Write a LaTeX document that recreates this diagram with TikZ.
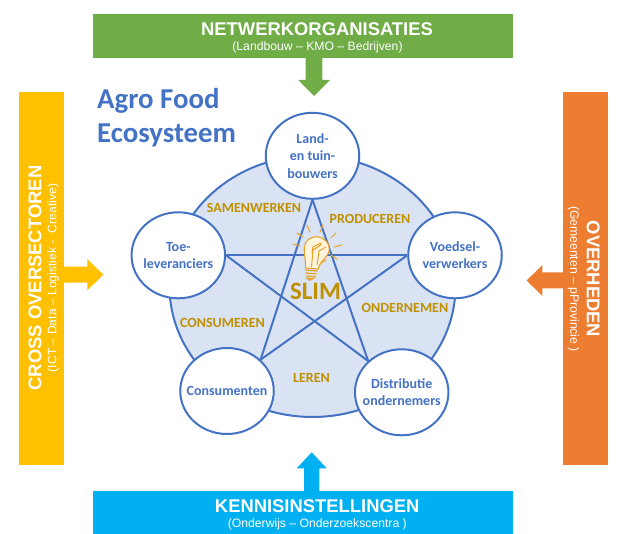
\documentclass[tikz,border=0pt]{standalone}
\usepackage{fontspec}
\usetikzlibrary{shapes.geometric}
\setmainfont{Liberation Sans}
\newfontfamily\carl{Carlito}
\definecolor{cblue}{HTML}{4472C4}
\definecolor{cfill}{HTML}{DAE3F3}
\definecolor{cgold}{HTML}{BF9000}
\definecolor{cgreen}{HTML}{70AD47}
\definecolor{csky}{HTML}{00B0F0}
\definecolor{cyel}{HTML}{FFC000}
\definecolor{corg}{HTML}{ED7D31}
\definecolor{cbulb}{HTML}{E8A32A}
\definecolor{cglass}{HTML}{FFF4DC}
\tikzset{
 x=1pt,y=-1pt,
 actor/.style={ellipse,draw=cblue,line width=2pt,fill=white,inner sep=0,minimum width=93.5pt,minimum height=86pt,label={[actortext]center:#1}},
 actortext/.style={align=center,inner sep=0,font=\carl\bfseries\fontsize{14}{17.5}\selectfont,text=cblue},
 star/.style={draw=cblue,line width=2pt},
 verb/.style={font=\carl\bfseries\fontsize{14}{16}\selectfont,text=cgold,inner sep=0},
 bigt/.style={font=\bfseries\fontsize{18.4}{20}\selectfont,text=white,inner sep=0},
 subt/.style={font=\fontsize{12.2}{14}\selectfont,text=white,inner sep=0},
 ray/.style={draw=cbulb,line width=1pt,line cap=round},
}
\begin{document}
\begin{tikzpicture}
\useasboundingbox (0,0) rectangle (617,534);
% arrows
\fill[cgreen] (305.7,58) -- (305.7,80) -- (298.3,80) -- (314,96) -- (330,80) -- (322.3,80) -- (322.3,58) -- cycle;
\fill[csky] (304,491) -- (304,468.3) -- (296.7,468.3) -- (311.7,452.3) -- (326.7,468.3) -- (319.3,468.3) -- (319.3,491) -- cycle;
\fill[cyel] (64,266.7) -- (87.3,266.7) -- (87.3,259) -- (103.3,274.7) -- (87.3,290.3) -- (87.3,282.7) -- (64,282.7) -- cycle;
\fill[corg] (563,272.3) -- (542.3,272.3) -- (542.3,265) -- (526.7,280.5) -- (542.3,296) -- (542.3,288.3) -- (563,288.3) -- cycle;
% bands
\fill[cgreen] (93,14) rectangle (513,58.3);
\fill[csky] (93,491) rectangle (513,534);
\fill[cyel] (19.3,92) rectangle (64.3,465);
\fill[corg] (563,92) rectangle (608,465);
\node[bigt] (nt) at (317,29) {NETWERKORGANISATIES};
\node[subt] (ns) at (317.5,47.5) {(Landbouw – KMO – Bedrijven)};
\node[bigt] (kt) at (317.2,506) {KENNISINSTELLINGEN};
\node[subt] (ks) at (317.3,524.5) {(Onderwijs – Onderzoekscentra )};
\node[bigt,rotate=90] (ct) at (35,278) {CROSS OVERSECTOREN};
\node[subt,rotate=90] (cs) at (53.3,278) {(ICT – Data – Logistiek -\ \ Creative)};
\node[bigt,rotate=-90] (ot) at (593.3,279) {OVERHEDEN};
\node[subt,rotate=-90] (os) at (573.5,279) {(Gemeenten – pProvincie )};
% title
\node[font=\carl\bfseries\fontsize{28.8}{34}\selectfont,text=cblue,align=left,anchor=north west,inner sep=0] (title) at (97,88) {Agro Food\\Ecosysteem};
% disc
\node[ellipse,draw=cblue,line width=2pt,fill=cfill,minimum width=286pt,minimum height=261.4pt,inner sep=0] (disc) at (312.5,286.3) {};
% actors
\node[actor={Land-\\en tuin-\\bouwers}] (a1) at (312.5,155.8) {};
\node[actor={Voedsel-\\verwerkers}] (a2) at (455,255.3) {};
\node[actor={Distributie\\ondernemers}] (a3) at (401.7,392.3) {};
\node[actor={Consumenten}] (a4) at (227,391) {};
\node[actor={Toe-\\leveranciers}] (a5) at (178.3,255.3) {};
% star
\draw[star] (a1.south) -- (a4.43);
\draw[star] (a1.south) -- (a3.137);
\draw[star] (a5.east) -- (a2.west);
\draw[star] (a5.east) -- (a3.137);
\draw[star] (a2.west) -- (a4.43);
% verbs
\node[verb] (v1) at (254,208.3) {SAMENWERKEN};
\node[verb] (v2) at (370,219.3) {PRODUCEREN};
\node[verb] (v3) at (405,307.7) {ONDERNEMEN};
\node[verb] (v4) at (311.5,378) {LEREN};
\node[verb] (v5) at (222.5,323.3) {CONSUMEREN};
% bulb
\node[font=\carl\bfseries\fontsize{25}{27}\selectfont,text=cgold,inner sep=0] (slim) at (315.5,291.5) {SLIM};
\path[fill=cglass,draw=cbulb,line width=1.1pt,line join=round] (305.5,268) .. controls (306,260) and (304,256) .. (304.3,248) .. controls (304.5,241) and (310,236.5) .. (316.7,236.7) .. controls (324,237) and (329.5,243) .. (329.3,249) .. controls (329,257) and (320,260) .. (318.3,269) -- cycle;
\draw[cbulb,line width=1pt,line join=round] (311.5,267) -- (313,250) -- (322,244) (317,265) -- (319,251) -- (326,247) (312,253) -- (313,247) -- (321,243);
\draw[cbulb,line width=1.3pt] (305.5,270) -- (317.5,271) (305.5,273) -- (316.5,274) (306,276) -- (316,277);
\fill[cbulb] (305,277.5) -- (315,278.5) -- (309.5,281) -- cycle;
\foreach \a/\b/\c/\d in {307/225/310/232, 323/225/320/232, 336/233/331/238, 342/245/334/247, 337/259/331/255, 297/233/303/237, 293/244/300/246, 326/260/321/263}
  \draw[ray] (\a,\b) -- (\c,\d);
\end{tikzpicture}
\end{document}
